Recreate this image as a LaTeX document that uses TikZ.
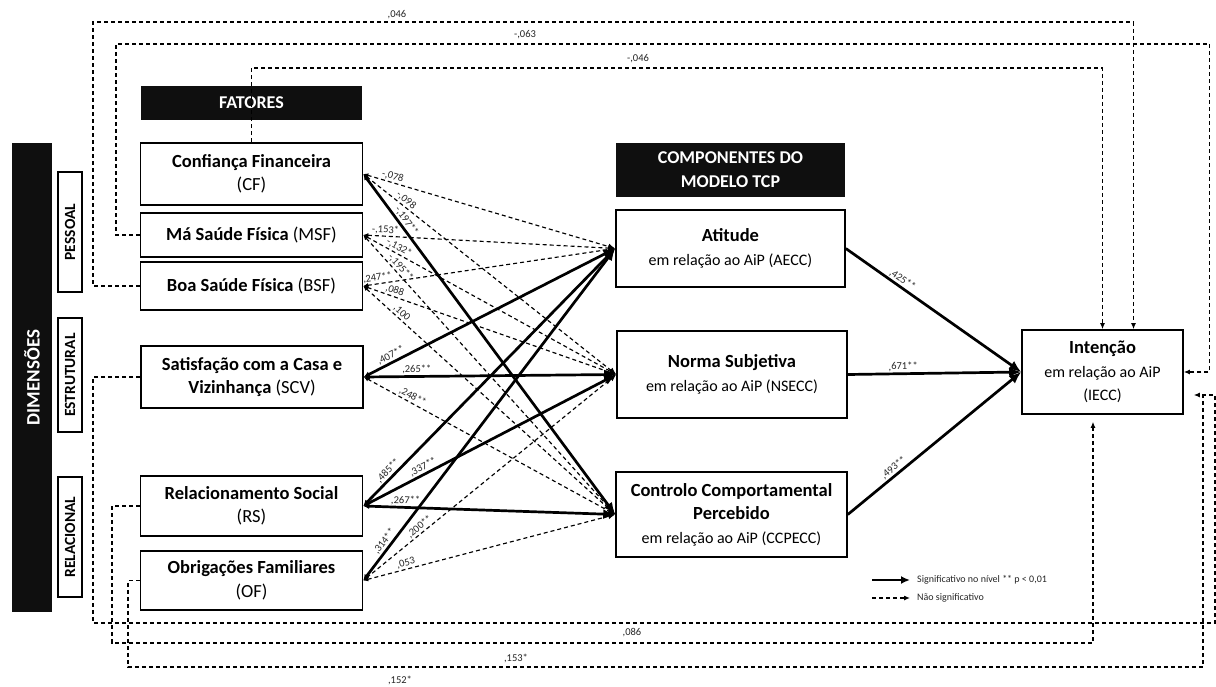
\documentclass[tikz,border=0pt]{standalone}
\usepackage{fontspec}
\setmainfont{Carlito}
\usetikzlibrary{arrows.meta,calc}
\begin{document}
\begin{tikzpicture}[x=1pt,y=-1pt,
  box/.style={draw=black,line width=1.6pt,fill=white,inner sep=0pt,align=center,text=black,
    font=\fontsize{18.5}{23.5}\selectfont},
  hdr/.style={fill=black!94,text=white,inner sep=0pt,align=center,font=\fontsize{18}{24}\selectfont\bfseries},
  dimbox/.style={draw=black,line width=1.6pt,fill=white,inner sep=0pt,rotate=90,
    font=\fontsize{15.5}{18}\selectfont\bfseries},
  sig/.style={line width=2.7pt,{Latex[length=6pt,width=6pt]}-{Latex[length=12pt,width=10pt]}},
  ns/.style={line width=1.15pt,dash pattern=on 4pt off 3pt,{Latex[length=5pt,width=4.5pt]}-{Latex[length=7pt,width=6pt]}},
  conn/.style={line width=1.15pt,dash pattern=on 4pt off 3pt,-{Latex[length=6pt,width=5pt]}},
  plain/.style={line width=1.15pt,dash pattern=on 4pt off 3pt},
  lab/.style={font=\fontsize{10.5}{11}\selectfont,inner sep=1.2pt,sloped,above,text=black!85},
  flab/.style={font=\fontsize{10.5}{11}\selectfont,inner sep=0pt,text=black!85},
  leg/.style={font=\fontsize{10}{11}\selectfont,inner sep=0pt,anchor=west,text=black!85}
]
\path[use as bounding box,fill=white] (0,0) rectangle (1216,687);

% dimension column
\node[fill=black!94,inner sep=0pt,rotate=90,minimum width=469pt,minimum height=40pt,
  text=white,font=\fontsize{19}{22}\selectfont\bfseries] (dim) at (32,377.5) {DIMENSÕES};
\node[dimbox,minimum width=120pt,minimum height=24pt] (pes) at (70,232) {PESSOAL};
\node[dimbox,minimum width=114pt,minimum height=24pt] (est) at (70,375) {ESTRUTURAL};
\node[dimbox,minimum width=120pt,minimum height=24pt] (rel) at (70,537) {RELACIONAL};

% headers
\node[hdr,minimum width=221pt,minimum height=34pt] (fat) at (251.5,103) {FATORES};
\node[hdr,minimum width=229pt,minimum height=54pt] (comp) at (730.5,170) {COMPONENTES DO\\MODELO TCP};

% factors
\node[box,minimum width=222pt,minimum height=62pt] (cf) at (251.5,174) {{\bfseries Confiança Financeira}\\(CF)};
\node[box,minimum width=222pt,minimum height=44pt] (msf) at (251.5,235) {{\bfseries Má Saúde Física} (MSF)};
\node[box,minimum width=222pt,minimum height=48pt] (bsf) at (251.5,286) {{\bfseries Boa Saúde Física} (BSF)};
\node[box,minimum width=222pt,minimum height=62pt] (scv) at (252,377) {{\bfseries Satisfação com a Casa e}\\{\bfseries Vizinhança} (SCV)};
\node[box,minimum width=222pt,minimum height=60pt] (rs) at (251.5,506) {{\bfseries Relacionamento Social}\\(RS)};
\node[box,minimum width=222pt,minimum height=59pt] (of) at (251.5,580.5) {{\bfseries Obrigações Familiares}\\(OF)};

% TCP components
\node[box,minimum width=229pt,minimum height=77pt] (ae) at (730.5,248.5)
  {{\bfseries Atitude}\\{\fontsize{16}{21}\selectfont em relação ao AiP (AECC)}};
\node[box,minimum width=230pt,minimum height=87pt] (ns) at (732,374.5)
  {{\bfseries Norma Subjetiva}\\{\fontsize{16}{21}\selectfont em relação ao AiP (NSECC)}};
\node[box,minimum width=231pt,minimum height=85pt] (cc) at (731.5,514.5)
  {{\bfseries Controlo Comportamental}\\{\bfseries Percebido}\\{\fontsize{16}{21}\selectfont em relação ao AiP (CCPECC)}};
\node[box,minimum width=161pt,minimum height=84pt] (int) at (1102.5,372)
  {{\bfseries Intenção}\\{\fontsize{16}{20}\selectfont em relação ao AiP}\\{\fontsize{16}{19}\selectfont (IECC)}};

% factor -> component paths
\draw[ns]  (cf.east) -- node[lab,pos=.11]{-,078} (ae.west);
\draw[ns]  (cf.east) -- node[lab,pos=.155]{-,098} (ns.west);
\draw[sig] (cf.east) -- node[lab,pos=.15]{-,197**} (cc.west);
\draw[ns]  (msf.east) -- node[lab,pos=.087]{-,153*} (ae.west);
\draw[ns]  (msf.east) -- node[lab,pos=.13]{-,132*} (ns.west);
\draw[ns]  (msf.east) -- node[lab,pos=.13]{-,195**} (cc.west);
\draw[ns]  (bsf.east) -- node[lab,pos=.06]{,247**} (ae.west);
\draw[ns]  (bsf.east) -- node[lab,pos=.117]{,088} (ns.west);
\draw[ns]  (bsf.east) -- node[lab,pos=.137]{,100} (cc.west);
\draw[sig] (scv.east) -- node[lab,pos=.12]{,407**} (ae.west);
\draw[sig] (scv.east) -- node[lab,pos=.21]{,265**} (ns.west);
\draw[ns]  (scv.east) -- node[lab,pos=.183]{,248**} (cc.west);
\draw[sig] (rs.east) -- node[lab,pos=.118]{,485**} (ae.west);
\draw[sig] (rs.east) -- node[lab,pos=.249]{,337**} (ns.west);
\draw[sig] (rs.east) -- node[lab,pos=.167]{,267**} (cc.west);
\draw[sig] (of.east) -- node[lab,pos=.105]{,314**} (ae.west);
\draw[ns]  (of.east) -- node[lab,pos=.238]{,200**} (ns.west);
\draw[ns]  (of.east) -- node[lab,pos=.175]{,053} (cc.west);

% component -> intention
\draw[line width=2.7pt,-{Latex[length=12pt,width=10pt]}] (ae.east) -- node[lab,pos=.30]{,425**} (int.west);
\draw[line width=2.7pt,-{Latex[length=12pt,width=10pt]}] (ns.east) -- node[lab,pos=.32]{,671**} (int.west);
\draw[line width=2.7pt,-{Latex[length=12pt,width=10pt]}] (cc.east) -- node[lab,pos=.29]{,493**} (int.west);

% direct factor -> intention paths (top)
\coordinate (t3) at (0,68);
\draw[conn] (bsf.west) -| (93,22) -| ([xshift=31pt]int.north);
\draw[conn] (msf.west) -| (116,44) -| ([xshift=26pt]int.east) -- (int.east);
\draw[conn] (cf.north) |- (int.north |- t3) -- (int.north);
\node[flab] (l1) at (397,15) {,046};
\node[flab] (l2) at (525,35) {-,063};
\node[flab] (l3) at (638,59) {-,046};

% bottom paths
\coordinate (ia) at ([xshift=10pt,yshift=-23pt]int.east);
\draw[plain] (scv.west) -| (93,623) -| (1215,395) -- (1203,395);
\draw[conn] (of.west) -| (128,667) -| (1203,395) -- (ia);
\draw[conn] (rs.west) -| (112,643) -| ([xshift=-9.5pt,yshift=-7pt]int.south);
\node[flab] (l4) at (632,633) {,086};
\node[flab] (l5) at (516,658) {,153*};
\node[flab] (l6) at (400,680) {,152*};

% legend
\coordinate (g1) at (872,580);
\coordinate (g2) at (910,580);
\coordinate (g3) at (872,598);
\coordinate (g4) at (910,598);
\draw[line width=2.7pt,-{Latex[length=9pt,width=8pt]}] (g1) -- (g2);
\draw[conn] (g3) -- (g4);
\node[leg] (gt1) at (917,580) {Significativo no nível ** p < 0,01};
\node[leg] (gt2) at (917,598) {Não significativo};
\end{tikzpicture}
\end{document}
